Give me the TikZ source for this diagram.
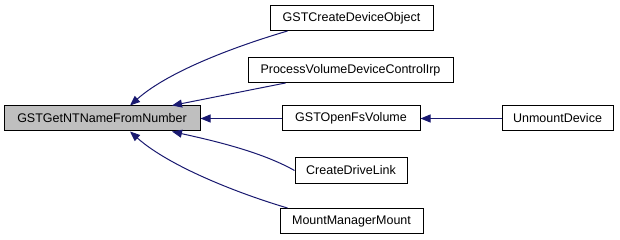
\documentclass[tikz,border=0pt]{standalone}
\usepackage{fontspec}
\setmainfont{Liberation Sans}
\usetikzlibrary{arrows.meta}
\definecolor{edgeblue}{HTML}{191970}
\definecolor{boxgrey}{HTML}{BFBFBF}
\begin{document}
\begin{tikzpicture}[x=1pt,y=-1pt,font=\fontsize{12.5}{14}\selectfont,
  fn/.style={draw=black,line width=1pt,minimum height=25pt,inner sep=0pt},
  call/.style={edgeblue,line width=1pt,{Triangle[length=10pt,width=8pt]}-}]
\useasboundingbox (0,0) rectangle (620,240);
\node[fn,fill=boxgrey,minimum width=196pt] (main) at (102,118.5) {GSTGetNTNameFromNumber};
\foreach \nm/\x/\y/\w/\txt in {cdo/351.5/18/163/GSTCreateDeviceObject,
  pvd/350.5/70/205/ProcessVolumeDeviceControlIrp, ofs/351/118.5/138/GSTOpenFsVolume,
  cdl/351/170.5/112/CreateDriveLink, mmm/351.5/221/143/MountManagerMount,
  umd/557.5/118.5/111/UnmountDevice}
  \node[fn,minimum width=\w pt] (\nm) at (\x,\y) {\txt};
\draw[call] ([xshift=28pt]main.north) .. controls (170,70) and (240,45) .. ([xshift=18pt]cdo.south west);
\draw[call] ([xshift=70pt]main.north) .. controls (210,98) and (250,90) .. ([xshift=38pt]pvd.south west);
\draw[call] (main.east) -- (ofs.west);
\draw[call] ([xshift=70pt]main.south) .. controls (210,140) and (260,151) .. (cdl.west);
\draw[call] ([xshift=28pt]main.south) .. controls (170,167) and (240,194) .. ([xshift=8pt]mmm.north west);
\draw[call] (ofs.east) -- (umd.west);
\end{tikzpicture}
\end{document}
